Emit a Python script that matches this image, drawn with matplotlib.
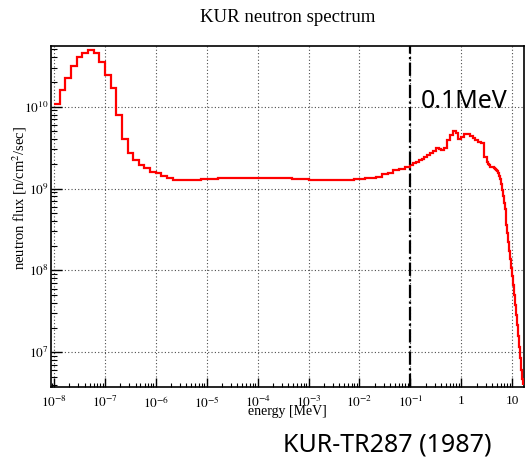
import numpy as np
import matplotlib
matplotlib.use("Agg")
import matplotlib.pyplot as plt
from matplotlib.ticker import LogLocator, FixedLocator, NullFormatter

# ---------------- data ----------------
# group structure (log10 of energy in MeV, groups per decade)
thermal_epi_range, thermal_epi_per_decade = (-8.0, -1.0), 9
fast_range, fast_per_decade = (-1.0, 0.5), 18
tail_range, tail_per_decade = (0.5, 1.2222), 54

# flux per group [n/cm^2/sec]
flux_thermal = [1.07e10, 1.59e10, 2.26e10, 3.14e10, 3.99e10, 4.57e10, 4.90e10,
                4.57e10, 3.47e10, 2.43e10, 1.68e10, 7.93e9, 4.00e9, 2.70e9,
                2.23e9, 1.94e9, 1.77e9, 1.61e9, 1.54e9, 1.43e9, 1.33e9]
flux_epithermal = [1.27e9, 1.27e9, 1.27e9, 1.27e9, 1.27e9, 1.29e9, 1.31e9,
                   1.32e9, 1.33e9, 1.33e9, 1.35e9, 1.35e9, 1.35e9, 1.36e9,
                   1.36e9, 1.36e9, 1.36e9, 1.36e9, 1.35e9, 1.35e9, 1.33e9,
                   1.32e9, 1.31e9, 1.30e9, 1.28e9, 1.27e9, 1.26e9, 1.26e9,
                   1.26e9, 1.26e9, 1.27e9, 1.28e9, 1.30e9, 1.31e9, 1.33e9,
                   1.36e9, 1.40e9, 1.51e9, 1.56e9, 1.66e9, 1.72e9, 1.81e9]
flux_fast = [1.94e9, 2.05e9, 2.13e9, 2.20e9, 2.30e9, 2.43e9, 2.57e9, 2.68e9,
             2.88e9, 3.15e9, 3.02e9, 2.92e9, 3.13e9, 3.92e9, 4.45e9, 5.05e9,
             4.78e9, 3.97e9, 4.21e9, 4.57e9, 4.60e9, 4.42e9, 4.17e9, 3.86e9,
             3.73e9, 3.55e9, 2.43e9]
flux_tail = [2.08e9, 2.02e9, 1.94e9, 1.89e9, 1.85e9, 1.85e9, 1.84e9, 1.83e9,
             1.79e9, 1.75e9, 1.70e9, 1.64e9, 1.56e9, 1.44e9, 1.29e9, 1.14e9,
             9.61e8, 8.00e8, 6.66e8, 5.55e8, 4.43e8, 3.59e8, 2.83e8, 2.23e8,
             1.75e8, 1.38e8, 1.07e8, 8.55e7, 6.64e7, 5.01e7, 3.78e7, 2.86e7,
             2.16e7, 1.58e7, 1.16e7, 8.52e6, 6.08e6, 4.72e6, 3.99e6]

x_tick_values = [1e-8, 1e-7, 1e-6, 1e-5, 1e-4, 1e-3, 1e-2, 1e-1, 1, 10]
x_tick_labels = ["$10^{-8}$", "$10^{-7}$", "$10^{-6}$", "$10^{-5}$", "$10^{-4}$",
                 "$10^{-3}$", "$10^{-2}$", "$10^{-1}$", "1", "10"]
y_tick_values = [1e7, 1e8, 1e9, 1e10]
y_tick_labels = ["$10^{7}$", "$10^{8}$", "$10^{9}$", "$10^{10}$"]
marker_energy = 0.1


def group_edges(rng, per_decade, n):
    return np.logspace(rng[0], rng[1], n + 1)


e1 = group_edges(thermal_epi_range, thermal_epi_per_decade, len(flux_thermal) + len(flux_epithermal))
e2 = group_edges(fast_range, fast_per_decade, len(flux_fast))
e3 = group_edges(tail_range, tail_per_decade, len(flux_tail))
edges = np.concatenate([e1, e2[1:], e3[1:]])
flux = np.array(flux_thermal + flux_epithermal + flux_fast + flux_tail)

# ---------------- plot ----------------
plt.rcParams["font.family"] = ["Liberation Serif", "DejaVu Serif"]
plt.rcParams["mathtext.fontset"] = "stix"

W, H = 528, 457
fig = plt.figure(figsize=(W / 100, H / 100), dpi=100)
ax = fig.add_axes([51 / W, 1 - 387 / H, 473 / W, 341 / H])

ax.set_xscale("log")
ax.set_yscale("log")
ax.set_xlim(8.73e-9, 17.1)
ax.set_ylim(3.77e6, 5.5e10)

ax.grid(True, which="major", linestyle=(0, (1, 2)), color="0.3", lw=0.8)
ax.stairs(flux, edges, baseline=None, color="red", lw=1.6, zorder=3)
ax.axvline(marker_energy, color="black", lw=1.6, linestyle=(0, (6, 1.5, 1, 1.5)), zorder=4)

ax.xaxis.set_major_locator(FixedLocator(x_tick_values))
ax.set_xticklabels(x_tick_labels)
ax.xaxis.set_minor_locator(LogLocator(base=10, subs=np.arange(2, 10), numticks=100))
ax.xaxis.set_minor_formatter(NullFormatter())
ax.yaxis.set_major_locator(FixedLocator(y_tick_values))
ax.set_yticklabels(y_tick_labels)
ax.yaxis.set_minor_locator(LogLocator(base=10, subs=np.arange(2, 10), numticks=100))
ax.yaxis.set_minor_formatter(NullFormatter())

ax.tick_params(which="both", direction="in", top=False, right=False, labelsize=9.5)
ax.tick_params(axis="x", which="major", length=6.5, width=1, pad=6)
ax.tick_params(axis="x", which="minor", length=3, width=0.8)
ax.tick_params(axis="y", which="major", length=8, width=1, pad=2)
ax.tick_params(axis="y", which="minor", length=4.5, width=0.8)
for s in ax.spines.values():
    s.set_linewidth(1.2)

fig.text(288 / W, 1 - 17 / H, "KUR neutron spectrum", ha="center", va="center", fontsize=13.5)
fig.text(20 / W, 1 - 198 / H, "neutron flux [n/cm$^{2}$/sec]", rotation=90,
         ha="center", va="center", fontsize=10.5)
fig.text(287 / W, 1 - 411 / H, "energy [MeV]", ha="center", va="center", fontsize=10)
fig.text(421 / W, 1 - 108 / H, "0.1MeV", family="Noto Sans", fontsize=18,
         ha="left", va="baseline", color="black")
fig.text(283 / W, 1 - 451 / H, "KUR-TR287 (1987)", family="Noto Sans", fontsize=18,
         ha="left", va="baseline", color="black")

fig.savefig("out.png", dpi=100)
